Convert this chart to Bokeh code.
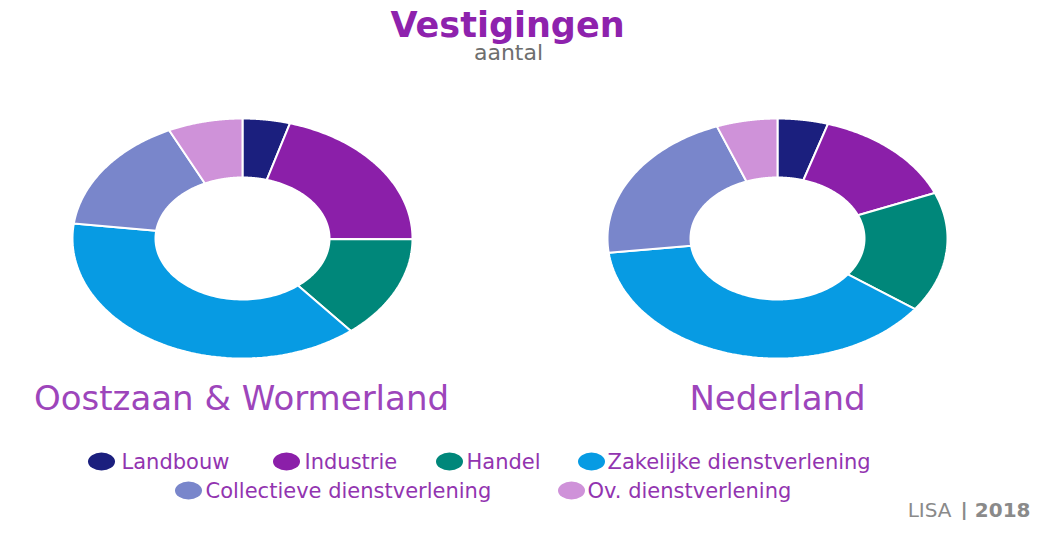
import numpy as np
from bokeh.plotting import figure
from bokeh.models import Range1d, ColumnDataSource
from bokeh.core.properties import value
from bokeh.embed import file_html
from bokeh.resources import INLINE

# ---------------- data ----------------
categories = ["Landbouw", "Industrie", "Handel", "Zakelijke dienstverlening",
              "Collectieve dienstverlening", "Ov. dienstverlening"]
colors = ["#1b1f7e", "#8b1fa9", "#00877a", "#079be3", "#7986cb", "#cf92d9"]
regions = ["Oostzaan & Wormerland", "Nederland"]
oostzaan_pct = [4.5, 20.6, 13.9, 38.0, 15.9, 7.1]
nederland_pct = [4.8, 14.0, 16.2, 38.1, 21.1, 5.8]
title = "Vestigingen"
subtitle = "aantal"
source_lisa = "LISA"
source_year = "| 2018"

W, H = 1032, 520
p = figure(width=W, height=H, output_backend="svg", toolbar_location=None,
           x_range=Range1d(0, W), y_range=Range1d(H, 0), min_border=0)
p.axis.visible = False
p.grid.visible = False
p.outline_line_color = None
p.background_fill_color = "white"
p.border_fill_color = "white"

# ---------------- donuts ----------------
def donut(values, cx, cy, rx, ry, irx, iry):
    vals = np.asarray(values, dtype=float)
    frac = vals / vals.sum()
    edges = np.concatenate([[0.0], np.cumsum(frac)]) * 2 * np.pi
    xs, ys = [], []
    for a0, a1 in zip(edges[:-1], edges[1:]):
        t = np.linspace(a0, a1, 80)
        ox = cx + rx * np.sin(t)
        oy = cy - ry * np.cos(t)
        ix = cx + irx * np.sin(t[::-1])
        iy = cy - iry * np.cos(t[::-1])
        xs.append(list(np.concatenate([ox, ix])))
        ys.append(list(np.concatenate([oy, iy])))
    src = ColumnDataSource(dict(xs=xs, ys=ys, color=colors, cat=categories))
    p.patches("xs", "ys", source=src, fill_color="color", line_color="white",
              line_width=2)

donut(oostzaan_pct, 242, 238, 170, 120, 87, 61)
donut(nederland_pct, 777, 238, 170, 120, 87, 61)

# ---------------- texts ----------------
p.text(x=[507], y=[24], text=[title], text_align="center",
       text_baseline="middle", text_font=value("DejaVu Sans"),
       text_font_style="bold", text_font_size="35px", text_color="#8e22ad")
p.text(x=[508], y=[52], text=[subtitle], text_align="center",
       text_baseline="middle", text_font=value("DejaVu Sans"),
       text_font_size="22px", text_color="#6e6e6e")

p.text(x=[241, 777], y=[397, 397], text=regions, text_align="center",
       text_baseline="middle", text_font=value("DejaVu Sans"),
       text_font_size="34px", text_color="#9d45bb")

# ---------------- legend ----------------
leg_cx = [101, 286, 449, 591, 188, 571]
leg_cy = [461, 461, 461, 461, 490, 490]
leg_tx = [121, 304, 466, 607, 205, 587]
p.ellipse(x=leg_cx, y=leg_cy, width=27, height=18, fill_color=colors,
          line_color=None)
p.text(x=leg_tx, y=leg_cy, text=categories, text_align="left",
       text_baseline="middle", text_font=value("DejaVu Sans"),
       text_font_size="21px", text_color="#9234b0")

# ---------------- source ----------------
p.text(x=[1030], y=[509], text=[source_year], text_align="right",
       text_baseline="middle", text_font=value("DejaVu Sans"),
       text_font_style="bold", text_font_size="20px", text_color="#8a8a8a")
p.text(x=[951], y=[509], text=[source_lisa], text_align="right",
       text_baseline="middle", text_font=value("DejaVu Sans"),
       text_font_size="20px", text_color="#8a8a8a")

open("out.html", "w").write(file_html(p, INLINE))
